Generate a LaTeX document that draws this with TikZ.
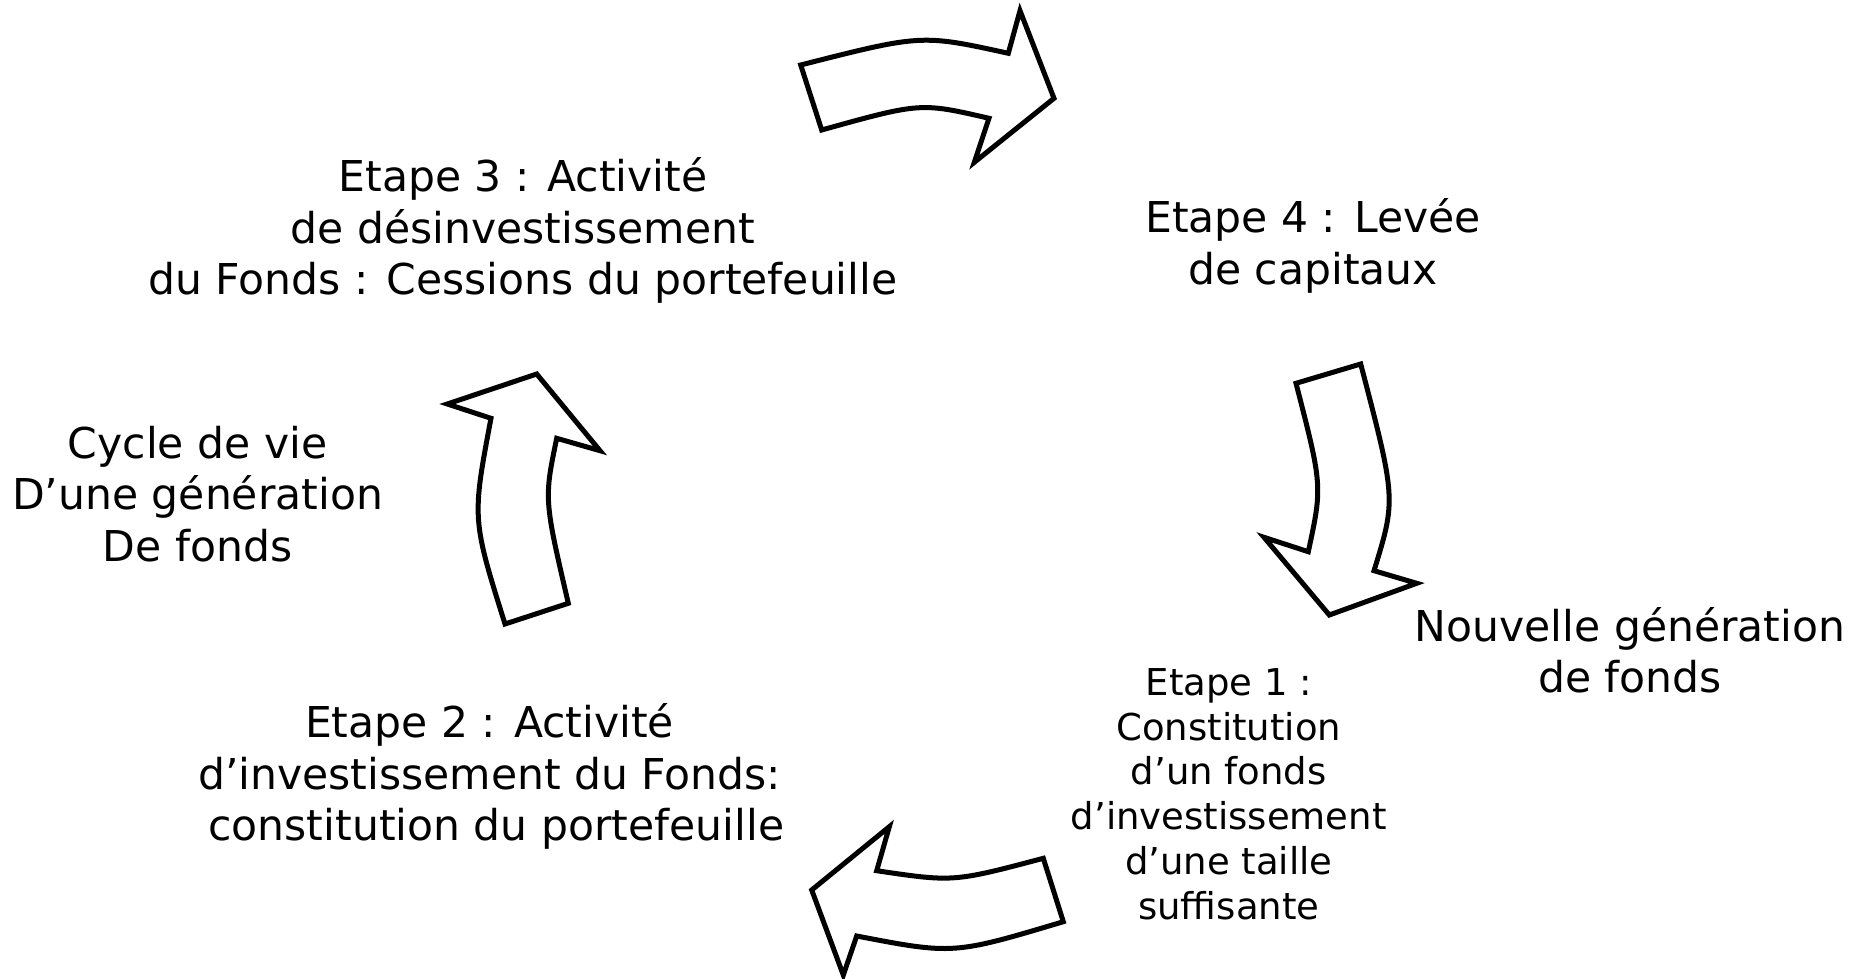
\documentclass[tikz,border=0pt]{standalone}
\usepackage{fontspec}
\setmainfont{DejaVu Sans}
\begin{document}
\begin{tikzpicture}[x=1pt,y=-1pt,
  bigarrow/.style={draw=black,line width=5pt,line join=miter,fill=white},
  bigtext/.style={inner sep=0pt,align=center,font=\fontsize{42.5}{51.5}\selectfont},
  smalltext/.style={inner sep=0pt,align=center,font=\fontsize{37}{44.8}\selectfont}]
\useasboundingbox (0,0) rectangle (1850,979);
% top arrow
\draw[bigarrow] (800.7,65) .. controls (921.5,34.25) .. (1008.3,53.3) -- (1020,10.7) -- (1054,98.3) -- (974.3,162.3) -- (989,118.3) .. controls (920.65,102.45) .. (821.7,130) -- cycle;
% right arrow
\draw[bigarrow] (1296,383.3) -- (1360.7,364) .. controls (1396.05,499.25) .. (1374,570.7) -- (1416.7,583.3) -- (1329.3,615) -- (1264,537.3) -- (1308.3,551.7) .. controls (1322.45,485.9) .. (1296,383.3) -- cycle;
% left arrow
\draw[bigarrow] (505,624) -- (568.3,603.3) .. controls (544.1,499.2) .. (556.7,438.3) -- (600,450.7) -- (536.7,374) -- (447.3,404) -- (491,418.3) .. controls (472,518.85) .. (505,624) -- cycle;
% bottom arrow
\draw[bigarrow] (1043.3,858.3) .. controls (953.4,882.1) .. (876.7,870.7) -- (889.3,826.7) -- (811.7,890) -- (843.3,975) -- (856.7,936) .. controls (953.4,954.55) .. (1063.3,921.7) -- cycle;
% texts
\node[bigtext] (e3) at (523,230.5) {Etape 3 : Activité\\de désinvestissement\\du Fonds : Cessions du portefeuille};
\node[bigtext] (e4) at (1313,246) {Etape 4 : Levée~\\de capitaux};
\node[bigtext] (cy) at (197.6,494) {Cycle de vie\\D’une génération\\De fonds};
\node[bigtext] (ng) at (1630,650.5) {Nouvelle génération~\\de fonds};
\node[smalltext] (e1) at (1228.8,794) {Etape 1 :\\Constitution\\d’un fonds\\d’investissement\\d’une taille\\suffisante};
\node[bigtext] (e2) at (489.6,776.5) {Etape 2 : Activité\\d’investissement du Fonds:\\~constitution du portefeuille};
\end{tikzpicture}
\end{document}
